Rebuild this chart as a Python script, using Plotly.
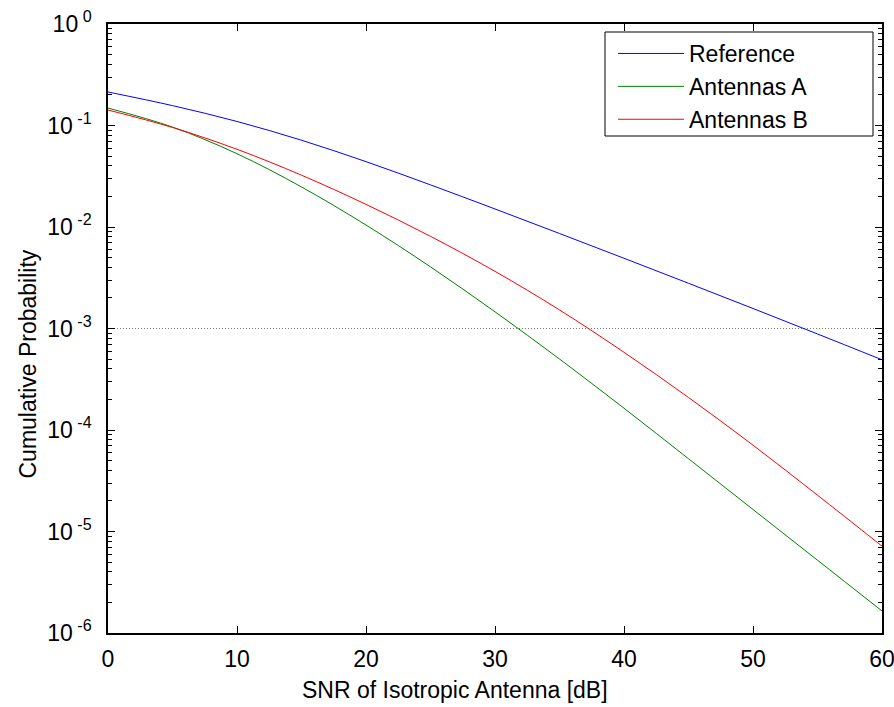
import plotly.graph_objects as go

# SNR of isotropic antenna [dB]
snr = [0, 5, 10, 15, 20, 25, 30, 35, 40, 45, 50, 55, 60]

# Cumulative probability curves
reference = [0.2138, 0.1570, 0.1096, 0.0716, 0.04406, 0.0260, 0.01505,
             0.00863, 0.00492, 0.00279, 0.001574, 0.000883, 0.000492]
antennas_a = [0.1486, 0.0965, 0.05272, 0.0248, 0.010459, 0.004046,
              0.0014605, 0.0005005, 0.0001639, 5.212e-5, 1.648e-5,
              5.212e-6, 1.648e-6]
antennas_b = [0.1422, 0.09561, 0.05829, 0.03239, 0.01671, 0.008091,
              0.003656, 0.001524, 0.0005829, 0.0002091, 7.088e-5,
              2.280e-5, 7.17e-6]

threshold_x = [0, 60]
threshold_y = [1e-3, 1e-3]

x_ticks = [0, 10, 20, 30, 40, 50, 60]
y_exponents = [0, -1, -2, -3, -4, -5, -6]

FONT = "Liberation Sans, Arial, sans-serif"

W, H = 894, 707
L, R, T, B = 108, 12, 24, 74
PW, PH = W - L - R, H - T - B


def px_x(p):
    return (p - L) / PW


def px_y(p):
    return (H - B - p) / PH


fig = go.Figure()
fig.add_trace(go.Scatter(x=threshold_x, y=threshold_y, mode="lines",
                         line=dict(color="#7a7a7a", width=1, dash="1px,2px"),
                         showlegend=False, hoverinfo="skip"))
for name, vals, col in [("Reference", reference, "#0000FF"),
                        ("Antennas A", antennas_a, "#008000"),
                        ("Antennas B", antennas_b, "#FF0000")]:
    fig.add_trace(go.Scatter(x=snr, y=vals, mode="lines", name=name,
                             line=dict(color=col, width=1, shape="spline",
                                       smoothing=1.0)))

y_tickvals = [10.0 ** e for e in y_exponents]
y_ticktext = ["10<sup>&#160;%d</sup>" % e for e in y_exponents]
minor_vals = [m * 10.0 ** e for e in range(-6, 0) for m in range(2, 10)]

fig.update_layout(
    width=W, height=H,
    margin=dict(l=L, r=R, t=T, b=B, autoexpand=False),
    plot_bgcolor="white", paper_bgcolor="white",
    font=dict(family=FONT, size=23, color="black"),
    showlegend=True,
    legend=dict(x=px_x(613), y=px_y(32), xanchor="left", yanchor="top",
                bgcolor="rgba(0,0,0,0)", borderwidth=0,
                itemwidth=66,
                font=dict(family=FONT, size=23, color="black")),
    xaxis=dict(range=[0, 60], tickvals=x_ticks, ticks="inside", ticklen=7,
               tickcolor="black", linecolor="black", linewidth=1.5,
               mirror="allticks", showgrid=False, zeroline=False,
               automargin=False, ticklabelstandoff=5,
               ticklabeloverflow="allow",
               tickfont=dict(family=FONT, size=23)),
    yaxis=dict(type="log", range=[-6, 0], tickvals=y_tickvals,
               ticktext=y_ticktext, ticks="inside", ticklen=7,
               tickcolor="black", linecolor="black", linewidth=1.5,
               mirror="allticks", showgrid=False, zeroline=False,
               automargin=False, ticklabelstandoff=10,
               ticklabeloverflow="allow",
               tickfont=dict(family=FONT, size=23),
               minor=dict(tickvals=minor_vals, ticks="inside", ticklen=4,
                          tickcolor="black", showgrid=False)),
)

# legend frame
fig.add_shape(type="rect", xref="paper", yref="paper",
              x0=px_x(605), x1=px_x(873), y0=px_y(136), y1=px_y(32),
              fillcolor="white", line=dict(color="black", width=1),
              layer="above")

fig.add_annotation(text="SNR of Isotropic Antenna [dB]", xref="paper",
                   yref="paper", x=px_x(455), y=px_y(690), showarrow=False,
                   xanchor="center", yanchor="middle",
                   font=dict(family=FONT, size=23, color="black"))
fig.add_annotation(text="Cumulative Probability", xref="paper", yref="paper",
                   x=px_x(28), y=px_y(364.5), showarrow=False, textangle=-90,
                   xanchor="center", yanchor="middle",
                   font=dict(family=FONT, size=23, color="black"))

fig.write_html("out.html",
               config={"displayModeBar": False},
               post_script="document.body.style.margin='0px';"
                           "document.body.style.padding='0px';")
